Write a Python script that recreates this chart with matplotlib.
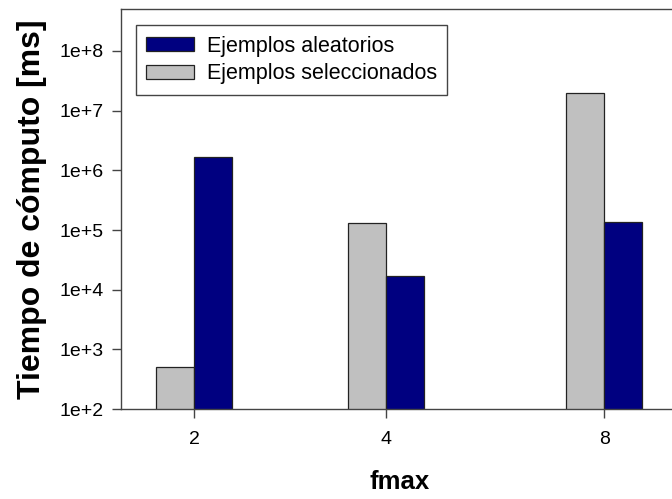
import numpy as np
import matplotlib.pyplot as plt

# tiempos de computo por valor de fmax
fmax = ["2", "4", "8"]
t_seleccionados = [500, 1.3e5, 2.0e7]
t_aleatorios = [1.7e6, 1.7e4, 1.35e5]
yticks = [1e2, 1e3, 1e4, 1e5, 1e6, 1e7, 1e8]
ytick_labels = ["1e+2", "1e+3", "1e+4", "1e+5", "1e+6", "1e+7", "1e+8"]

plt.rcParams['font.family'] = ['Liberation Sans', 'DejaVu Sans']

fig = plt.figure(figsize=(6.72, 4.99), dpi=100)
ax = fig.add_axes([0.180, 0.180, 0.829, 0.8016])

# centros de grupo (separacion irregular como en el original)
pos = np.array([0.0, 1.0, 2.135])
w = 0.198

b_sel = ax.bar(pos - w / 2, t_seleccionados, w, bottom=0, color="#C0C0C0",
               edgecolor="#222222", linewidth=0.9, label="Ejemplos seleccionados")
b_ale = ax.bar(pos + w / 2, t_aleatorios, w, color="#000080",
               edgecolor="#222222", linewidth=0.9, label="Ejemplos aleatorios")

ax.set_yscale("log")
ax.set_ylim(1e2, 10 ** 8.7)
ax.set_xlim(-0.38, 2.52)
ax.set_yticks(yticks)
ax.set_yticklabels(ytick_labels)
ax.minorticks_off()
ax.set_xticks(pos)
ax.set_xticklabels(fmax)

for s in ax.spines.values():
    s.set_color("#444444")
    s.set_linewidth(1.0)
ax.tick_params(axis="both", direction="out", length=6.5, width=1.0,
               color="#444444", labelsize=14, pad=6)
ax.tick_params(axis="x", pad=9)

ax.set_ylabel("Tiempo de cómputo [ms]", fontsize=23, fontweight="bold", labelpad=9)
ax.set_xlabel("fmax", fontsize=18.5, fontweight="bold", labelpad=16)

leg = ax.legend(handles=[b_ale, b_sel], loc="upper left",
                bbox_to_anchor=(0.027, 0.96), borderaxespad=0, fontsize=15.5,
                fancybox=False, framealpha=1, edgecolor="#444444",
                handlelength=2.2, handleheight=0.65, handletextpad=0.6,
                labelspacing=0.32, borderpad=0.48)
leg.get_frame().set_linewidth(1.0)

fig.savefig("out.png", dpi=100)
